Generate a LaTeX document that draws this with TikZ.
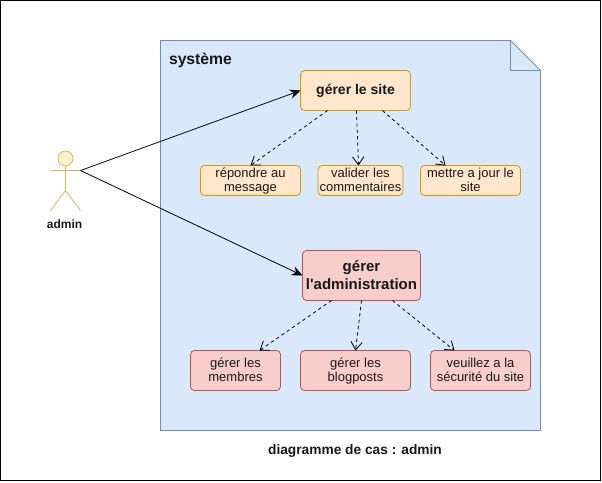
\documentclass[tikz,border=0pt]{standalone}
\usepackage{fontspec}
\setmainfont{Liberation Sans}
\newfontfamily\plainsans{Liberation Sans}
\usetikzlibrary{arrows.meta}
\newcommand\lnstrut{\rule[-2.25pt]{0pt}{10.5pt}}
\definecolor{bluefill}{HTML}{DAE8FC}
\definecolor{blueline}{HTML}{6C8EBF}
\definecolor{orangefill}{HTML}{FFE6CC}
\definecolor{orangeline}{HTML}{D79B00}
\definecolor{redfill}{HTML}{F8CECC}
\definecolor{redline}{HTML}{B85450}
\definecolor{actorfill}{HTML}{FFF2CC}
\definecolor{actorline}{HTML}{D6B656}
\tikzset{
 x=0.75pt,y=-0.75pt,
 every node/.style={align=center,inner sep=0pt,outer sep=0pt,text=black!90},
 orangebox/.style={draw=orangeline,fill=orangefill,rounded corners=3pt,line width=0.6pt},
 redbox/.style={draw=redline,fill=redfill,rounded corners=3pt,line width=0.6pt},
 bigtext/.style={font=\bfseries\fontsize{10.5pt}{13.5pt}\selectfont},
 admtext/.style={font=\bfseries\fontsize{11.25pt}{13.5pt}\selectfont},
 systext/.style={font=\bfseries\fontsize{11.8pt}{14pt}\selectfont},
 small/.style={font=\fontsize{9.75pt}{10.5pt}\selectfont},
 actortext/.style={font=\bfseries\fontsize{9pt}{11pt}\selectfont},
 titletext/.style={font=\bfseries\fontsize{10.3pt}{12pt}\selectfont},
 solidarrow/.style={draw=black,line width=0.6pt,-{Stealth[length=8pt,width=7pt]}},
 dasharrow/.style={draw=black,line width=0.6pt,dash pattern=on 2.4pt off 2.4pt,-{Straight Barb[length=6pt,width=8.5pt]}},
}
\begin{document}
\begin{tikzpicture}
\useasboundingbox (0,0) rectangle (602,482);
\draw[black,line width=0.75pt] (0.5,0.5) rectangle (600.5,480.5);
% page
\draw[blueline,fill=bluefill,line width=0.6pt] (160.5,40.5) -- (510.5,40.5) -- (540.5,70.5) -- (540.5,430.5) -- (160.5,430.5) -- cycle;
\draw[blueline,line width=0.6pt] (510.5,40.5) -- (510.5,70.5) -- (540.5,70.5);
\node[anchor=west,systext] (sys) at (169,60) {système};
% actor
\coordinate (hand) at (80.5,170.5);
\draw[actorline,fill=actorfill,line width=0.6pt] (65.5,158.5) circle (7.5);
\draw[actorline,line width=0.6pt] (65.5,166) -- (65.5,190.5) (50.5,170.5) -- (hand) (50.5,210.5) -- (65.5,190.5) -- (80.5,210.5);
\node[actortext] (admin) at (64.5,224) {admin};
% nodes
\node[orangebox,minimum width=82.5pt,minimum height=30pt,bigtext] (site) at (355.5,90.5) {gérer le site};
\node[orangebox,minimum width=75pt,minimum height=22.5pt,small] (rep) at (250.5,180.5) {\lnstrut répondre au\\\lnstrut message};
\node[orangebox,minimum width=63.75pt,minimum height=22.5pt,small] (val) at (360.5,180.5) {\lnstrut valider les\\\lnstrut commentaires};
\node[orangebox,minimum width=75pt,minimum height=22.5pt,small] (mettre) at (470.5,180.5) {\lnstrut mettre a jour le\\\lnstrut site};
\node[redbox,minimum width=88.5pt,minimum height=37.5pt,admtext] (adm) at (361.5,275.5) {gérer\\l{\plainsans '}administration};
\node[redbox,minimum width=67.5pt,minimum height=30pt,small] (mem) at (235.5,370.5) {\lnstrut gérer les\\\lnstrut membres};
\node[redbox,minimum width=82.5pt,minimum height=30pt,small] (blog) at (355.5,370.5) {\lnstrut gérer les\\\lnstrut blogposts};
\node[redbox,minimum width=75pt,minimum height=30pt,small] (sec) at (480.5,370.5) {\lnstrut veuillez a la\\\lnstrut sécurité du site};
\node[titletext] (title) at (355,451) {diagramme de cas : admin};
% connectors
\draw[solidarrow] (hand) -- (site.west);
\draw[solidarrow] (hand) -- (adm.west);
\path (site.south west) ++(27,0) coordinate (s1) (site.south) ++(1,0) coordinate (s2) (site.south east) ++(-28,0) coordinate (s3);
\path (val.north) ++(-2,0) coordinate (t2) (mettre.north) ++(-25,0) coordinate (t3);
\draw[dasharrow] (s1) -- (rep.north);
\draw[dasharrow] (s2) -- (t2);
\draw[dasharrow] (s3) -- (t3);
\path (adm.south west) ++(29,0) coordinate (a1) (adm.south east) ++(-28,0) coordinate (a3);
\path (mem.north) ++(24,0) coordinate (u1) (sec.north) ++(-26,0) coordinate (u3);
\draw[dasharrow] (a1) -- (u1);
\draw[dasharrow] (adm.south) -- (blog.north);
\draw[dasharrow] (a3) -- (u3);
\end{tikzpicture}
\end{document}
